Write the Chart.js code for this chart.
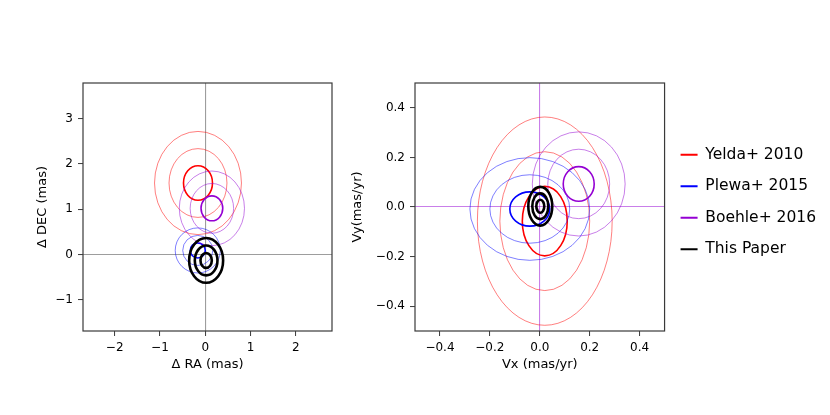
<!DOCTYPE html>
<html>
<head>
<meta charset="utf-8">
<script src="https://cdn.jsdelivr.net/npm/chart.js@4"></script>
<style>
  html, body { margin: 0; padding: 0; background: #fff; }
  #wrap { position: relative; width: 830px; height: 415px; overflow: hidden; }
  .panel { position: absolute; top: 0; }
</style>
</head>
<body>
<div id="wrap">
  <div class="panel" style="left:0px"><canvas id="posChart" width="345" height="415"></canvas></div>
  <div class="panel" style="left:340px"><canvas id="velChart" width="490" height="415"></canvas></div>
</div>
<script>
// surveys and their best-fit values
const surveys = ['Yelda+ 2010', 'Plewa+ 2015', 'Boehle+ 2016', 'This Paper'];
const posX = [-0.16, -0.165, 0.147, 0.02];      // Δ RA (mas)
const posY = [1.58, 0.09, 1.02, -0.13];         // Δ DEC (mas)
const posErrX = [0.32, 0.166, 0.24, 0.125];
const posErrY = [0.38, 0.166, 0.275, 0.165];
const velX = [0.02, -0.04, 0.156, 0.002];       // Vx (mas/yr)
const velY = [-0.057, -0.008, 0.093, 0.003];    // Vy (mas/yr)
const velErrX = [0.09, 0.08, 0.062, 0.016];
const velErrY = [0.14, 0.069, 0.07, 0.026];
const sigmaLevels = [3, 2, 1];
const raTicks = [-2, -1, 0, 1, 2];
const decTicks = [-1, 0, 1, 2, 3];
const velTicks = [-0.4, -0.2, 0, 0.2, 0.4];

const colors = ['#ff0000', '#0000ff', '#9400d3', '#000000'];
const faint = ['rgba(255,0,0,0.5)', 'rgba(0,0,255,0.5)', 'rgba(148,0,211,0.5)', '#000000'];

Chart.defaults.font.family = "'DejaVu Sans', sans-serif";
Chart.defaults.font.size = 12;
Chart.defaults.color = '#000';

const fmtInt = v => (v < 0 ? '\u2212' + Math.abs(v) : '' + v);
const fmtDec = v => (v < 0 ? '\u2212' + Math.abs(v).toFixed(1) : v.toFixed(1));

// 1, 2, 3 sigma ellipses around each centre, through the chart's own scales
const ellipsePlugin = {
  id: 'sigmaEllipses',
  afterDatasetsDraw(chart) {
    const { ctx, chartArea, scales } = chart;
    ctx.save();
    ctx.beginPath();
    ctx.rect(chartArea.left, chartArea.top, chartArea.width, chartArea.height);
    ctx.clip();
    chart.data.datasets.forEach((ds, i) => {
      if (!chart.isDatasetVisible(i)) return;
      ds.data.forEach(p => {
        const cx = scales.x.getPixelForValue(p.x);
        const cy = scales.y.getPixelForValue(p.y);
        sigmaLevels.forEach(k => {
          const rx = Math.abs(scales.x.getPixelForValue(p.x + k * p.ex) - cx);
          const ry = Math.abs(scales.y.getPixelForValue(p.y + k * p.ey) - cy);
          ctx.beginPath();
          ctx.ellipse(cx, cy, rx, ry, 0, 0, Math.PI * 2);
          ctx.strokeStyle = k === 1 ? ds.borderColor : ds.faintColor;
          ctx.lineWidth = k === 1 ? ds.innerWidth : ds.outerWidth;
          ctx.stroke();
        });
      });
    });
    ctx.restore();
  }
};

const framePlugin = {
  id: 'frame',
  afterDraw(chart) {
    const { ctx, chartArea: a } = chart;
    ctx.save();
    ctx.strokeStyle = '#3a3a3a';
    ctx.lineWidth = 1.2;
    ctx.strokeRect(a.left, a.top, a.width, a.height);
    ctx.restore();
  }
};

function makeDatasets(xs, ys, exs, eys) {
  return surveys.map((name, i) => ({
    label: name,
    data: [{ x: xs[i], y: ys[i], ex: exs[i], ey: eys[i] }],
    borderColor: colors[i],
    backgroundColor: colors[i],
    faintColor: faint[i],
    innerWidth: i === 3 ? 2.6 : 1.6,
    outerWidth: i === 3 ? 2.6 : 1,
    borderWidth: 2,
    pointRadius: 0,
    pointHoverRadius: 0,
    pointStyle: 'line'
  }));
}

function axis(min, max, ticks, fmt, title, zeroColor, fitKey, fitVal) {
  return {
    type: 'linear',
    min: min,
    max: max,
    afterBuildTicks: s => { s.ticks = ticks.map(v => ({ value: v })); },
    afterFit: s => { s[fitKey] = fitVal; },
    border: { display: false },
    grid: {
      drawOnChartArea: true,
      color: c => (c.tick && c.tick.value === 0 ? zeroColor : 'rgba(0,0,0,0)'),
      lineWidth: 1.1,
      tickColor: '#3a3a3a',
      tickLength: 5,
      tickWidth: 1
    },
    ticks: { padding: 5, color: '#000', callback: fmt },
    title: { display: true, text: title, color: '#000', padding: 4, font: { size: 13 } }
  };
}

new Chart(document.getElementById('posChart'), {
  type: 'scatter',
  data: { datasets: makeDatasets(posX, posY, posErrX, posErrY) },
  options: {
    responsive: false,
    animation: false,
    layout: { padding: { left: 31, right: 13, top: 83, bottom: 39 } },
    plugins: { legend: { display: false }, tooltip: { enabled: false } },
    scales: {
      x: axis(-2.7, 2.8, raTicks, fmtInt, '\u0394 RA (mas)', 'rgba(140,140,140,0.85)', 'height', 45),
      y: axis(-1.69, 3.79, decTicks, fmtInt, '\u0394 DEC (mas)', 'rgba(140,140,140,0.85)', 'width', 52)
    }
  },
  plugins: [ellipsePlugin, framePlugin]
});

new Chart(document.getElementById('velChart'), {
  type: 'scatter',
  data: { datasets: makeDatasets(velX, velY, velErrX, velErrY) },
  options: {
    responsive: false,
    animation: false,
    layout: { padding: { left: 6, right: 4, top: 83, bottom: 39 } },
    plugins: {
      tooltip: { enabled: false },
      legend: {
        position: 'right',
        fullSize: false,
        maxWidth: 170,
        align: 'start',
        // empty title only used as a spacer to push the entries down
        title: { display: true, text: '', font: { size: 10 }, padding: { top: 18, bottom: 18 } },
        labels: {
          usePointStyle: true,
          pointStyleWidth: 17,
          padding: 16,
          color: '#000',
          font: { size: 15.5 }
        }
      }
    },
    scales: {
      x: axis(-0.5, 0.5, velTicks, fmtDec, 'Vx (mas/yr)', 'rgba(148,0,211,0.5)', 'height', 45),
      y: axis(-0.5, 0.5, velTicks, fmtDec, 'Vy(mas/yr)', 'rgba(148,0,211,0.5)', 'width', 69)
    }
  },
  plugins: [ellipsePlugin, framePlugin]
});
</script>
</body>
</html>
